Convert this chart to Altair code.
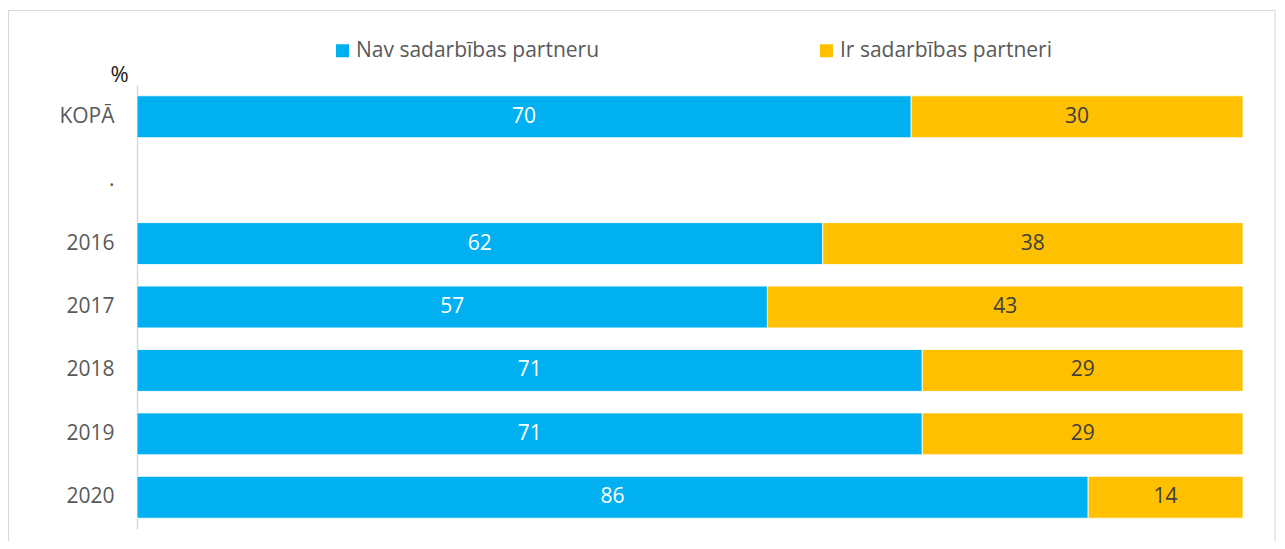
import altair as alt
import pandas as pd

categories = ["KOPĀ", ".", "2016", "2017", "2018", "2019", "2020"]
bar_cats = ["KOPĀ", "2016", "2017", "2018", "2019", "2020"]
series = ["Nav sadarbības partneru", "Ir sadarbības partneri"]
nav_values = [70, 62, 57, 71, 71, 86]
ir_values = [30, 38, 43, 29, 29, 14]
colors = ["#00B0F0", "#FFC000"]
label_colors = ["#FFFFFF", "#404040"]

rows = []
for c, a, b in zip(bar_cats, nav_values, ir_values):
    rows.append({"cat": c, "series": series[0], "value": a, "order": 0})
    rows.append({"cat": c, "series": series[1], "value": b, "order": 1})
df = pd.DataFrame(rows)

FONT = "Open Sans"
FS = 21
W, H = 1106, 444
PAD = {"left": 129, "top": 77, "right": 34, "bottom": 12}

y_enc = alt.Y("cat:N", scale=alt.Scale(domain=categories, paddingInner=0.34, paddingOuter=0.17),
              sort=categories,
              axis=alt.Axis(title="%", titleAngle=0, titleAlign="center", titleBaseline="alphabetic",
                            titleX=-18, titleY=-4, titleFont=FONT, titleFontSize=22,
                            titleFontWeight="normal", titleColor="#1a1a1a",
                            labelFont=FONT, labelFontSize=FS, labelColor="#595959",
                            labelPadding=23, ticks=False, domainColor="#D9D9D9",
                            domainWidth=1.5, grid=False))

base = alt.Chart(df).transform_stack(
    stack="value", as_=["x0", "x1"], groupby=["cat"], sort=[alt.SortField("order")]
).transform_calculate(mid="(datum.x0 + datum.x1) / 2")

bars = base.mark_bar(stroke="white", strokeWidth=0.8).encode(
    y=y_enc,
    x=alt.X("x0:Q", scale=alt.Scale(domain=[0, 100], nice=False, zero=True), axis=None),
    x2="x1:Q",
    color=alt.Color("series:N", scale=alt.Scale(domain=series, range=colors),
                    sort=series,
                    legend=alt.Legend(title=None, orient="none", direction="horizontal",
                                      legendX=195, legendY=-45, padding=0,
                                      symbolType="square", symbolSize=169, symbolStrokeWidth=0,
                                      labelFont=FONT, labelFontSize=FS, labelColor="#595959",
                                      labelLimit=0, labelOffset=3, columnPadding=216)),
)

labels = base.mark_text(font=FONT, fontSize=FS, baseline="middle", align="center").encode(
    y=alt.Y("cat:N", sort=categories),
    x=alt.X("mid:Q"),
    text=alt.Text("value:Q"),
    color=alt.Color("series:N", scale=alt.Scale(domain=series, range=label_colors), legend=None),
)

frame = alt.Chart(pd.DataFrame({"a": [0]})).mark_rect(
    fillOpacity=0, stroke="#D9D9D9", strokeWidth=1.2
).encode(
    x=alt.value(-128.5), x2=alt.value(W + 32), y=alt.value(-74.5), y2=alt.value(H + 30)
)

chart = alt.layer(frame, bars, labels).resolve_scale(color="independent").properties(
    width=W, height=H,
    autosize=alt.AutoSizeParams(type="none"),
    padding=PAD,
).configure_view(stroke=None)

chart.save("out.html", embed_options={"renderer": "svg", "actions": False})
